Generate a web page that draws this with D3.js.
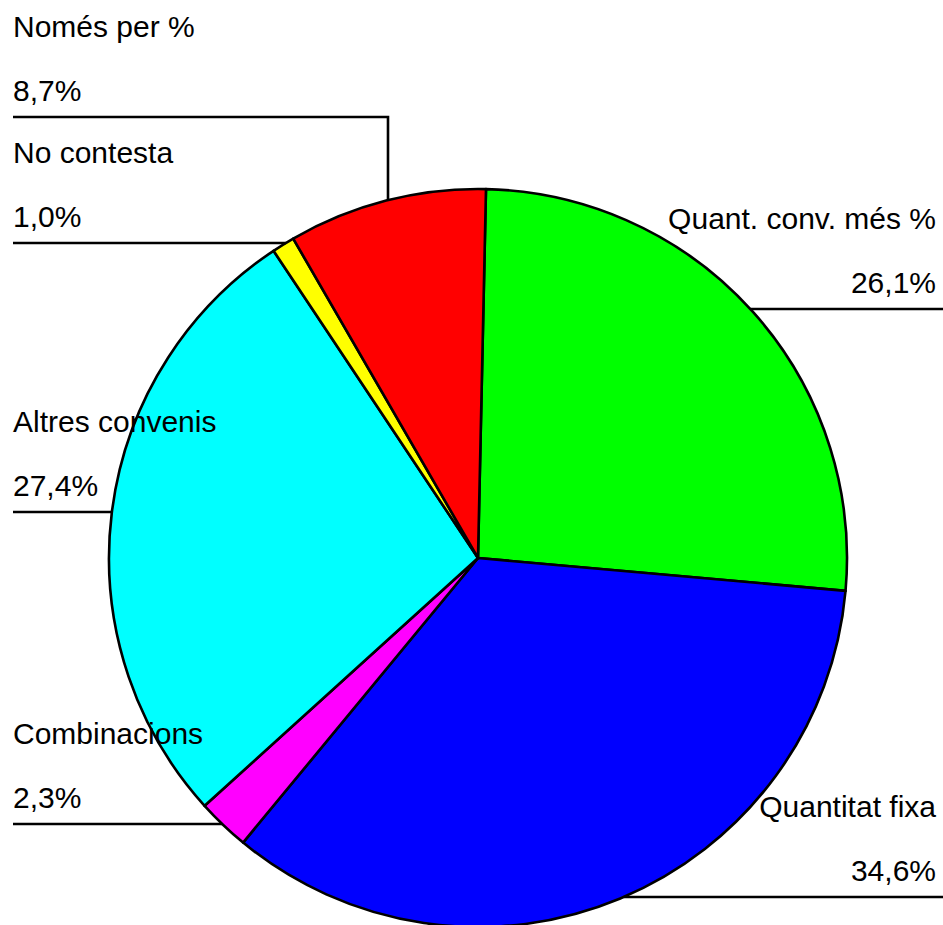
<!DOCTYPE html>
<html>
<head>
<meta charset="utf-8">
<script src="https://cdn.jsdelivr.net/npm/d3@7/dist/d3.min.js"></script>
<style>
    body { margin: 0; background: #fff; }
    .label { font-family: "Liberation Sans", Arial, sans-serif; font-size: 30px; fill: #000; }
    .leader { fill: none; stroke: #000; stroke-width: 2.6; }
    .slice { stroke: #000; stroke-width: 2.6; stroke-linejoin: round; }
</style>
</head>
<body>
<div id="graph"></div>
<script>

// data, clockwise from the top
var categories = ["Quant. conv. més %", "Quantitat fixa", "Combinacions", "Altres convenis", "No contesta", "Només per %"];
var values = [26.1, 34.6, 2.3, 27.4, 1.0, 8.7];
var valueLabels = ["26,1%", "34,6%", "2,3%", "27,4%", "1,0%", "8,7%"];
var colors = ["#00ff00", "#0000ff", "#ff00ff", "#00ffff", "#ffff00", "#ff0000"];

// where each label sits (side of the page, y of its leader line, optional elbow x)
var labelSide = ["right", "right", "left", "left", "left", "left"];
var labelLineY = [309, 897, 824, 512, 243, 117];
var labelElbowX = [null, null, null, null, null, 388];

function draw() {
    var width = 943, height = 925;
    var cx = 478, cy = 558, r = 369;
    var leftX = 13, rightX = 936;

    var svg = d3.select("div#graph").append("svg")
        .attr("width", width)
        .attr("height", height);

    var pie = d3.pie()
        .sort(null)
        .value(function(d) { return d; })
        .startAngle(1.24 * Math.PI / 180)
        .endAngle(1.24 * Math.PI / 180 + 2 * Math.PI);

    var arc = d3.arc()
        .innerRadius(0)
        .outerRadius(r);

    var g = svg.append("g")
        .attr("transform", "translate(" + cx + "," + cy + ")");

    g.selectAll("path.slice")
        .data(pie(values))
        .enter().append("path")
        .attr("class", "slice")
        .attr("fill", function(d, i) { return colors[i]; })
        .attr("d", arc);

    // leader lines: horizontal from the page edge to the pie rim
    categories.forEach(function(c, i) {
        var y = labelLineY[i];
        var path = d3.path();
        if (labelElbowX[i] != null) {
            var ex = labelElbowX[i];
            var ey = cy - Math.sqrt(r * r - (ex - cx) * (ex - cx));
            path.moveTo(leftX, y);
            path.lineTo(ex, y);
            path.lineTo(ex, ey);
        } else {
            var dx = Math.sqrt(r * r - (y - cy) * (y - cy));
            if (labelSide[i] == "left") {
                path.moveTo(leftX, y);
                path.lineTo(cx - dx, y);
            } else {
                path.moveTo(width, y);
                path.lineTo(cx + dx, y);
            }
        }
        svg.append("path")
            .attr("class", "leader")
            .attr("d", path.toString());
    });

    // texts, on top of the pie
    categories.forEach(function(c, i) {
        var left = labelSide[i] == "left";
        var x = left ? leftX : rightX;
        var anchor = left ? "start" : "end";
        svg.append("text")
            .attr("class", "label")
            .attr("x", x)
            .attr("y", labelLineY[i] - 80)
            .attr("text-anchor", anchor)
            .text(c);
        svg.append("text")
            .attr("class", "label")
            .attr("x", x)
            .attr("y", labelLineY[i] - 16)
            .attr("text-anchor", anchor)
            .text(valueLabels[i]);
    });
}

draw();
</script>
</body>
</html>
